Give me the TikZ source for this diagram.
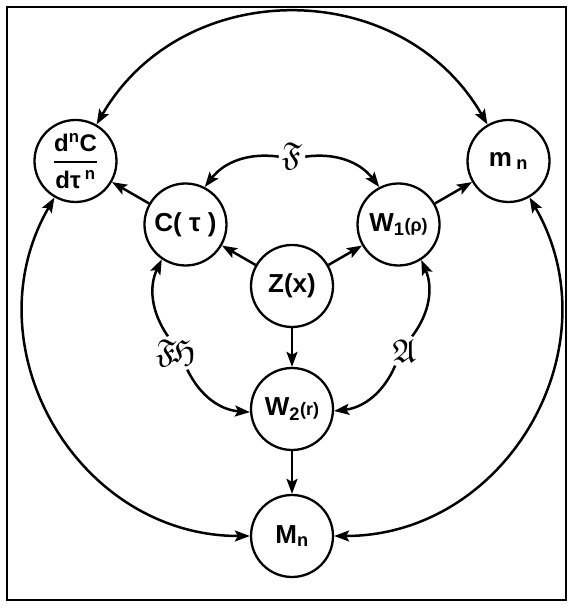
\documentclass[tikz,border=0pt]{standalone}
\usepackage{amsmath,amssymb}
\usepackage{fontspec}
\setmainfont{Liberation Sans}
\usetikzlibrary{arrows.meta,calc}
\begin{document}
\begin{tikzpicture}[x=1pt,y=1pt,
  nd/.style={circle,draw,line width=2.3pt,minimum size=82pt,inner sep=0pt,
    font=\fontsize{26}{28}\selectfont\bfseries},
  arr/.style={line width=2.5pt,-{Stealth[length=15pt,width=11pt,inset=3pt]}},
  darr/.style={line width=2.5pt,{Stealth[length=15pt,width=11pt,inset=3pt]}-{Stealth[length=15pt,width=11pt,inset=3pt]}},
  lbl/.style={font=\fontsize{33}{35}\selectfont,inner sep=3pt}]
\useasboundingbox (0,0) rectangle (573,608);
\draw[line width=2.2pt] (7,8) rectangle (566,601);
\node[nd] (Z) at (292,322) {Z(x)};
\node[nd] (D) at ($(Z)+(150:250)$) {\fontsize{24}{26}\selectfont$\genfrac{}{}{2.2pt}{0}{\mbox{\bfseries d\textsuperscript{n}C}}{\mbox{\bfseries dτ\,\textsuperscript{n}}}$};
\node[nd] (m) at ($(Z)+(30:250)$) {m\,\textsubscript{n}};
\node[nd] (M) at ($(Z)+(270:250)$) {M\textsubscript{n}};
\node[nd] (C) at ($(Z)+(150:123)$) {C( τ )};
\node[nd] (W1) at ($(Z)+(30:123)$) {W\textsubscript{1}{\fontsize{18}{20}\selectfont(ρ)}};
\node[nd] (W2) at ($(Z)+(270:123)$) {W\textsubscript{2}{\fontsize{18}{20}\selectfont(r)}};
\node[lbl] (F) at ($(Z)+(90:130)$) {$\mathfrak{F}$};
\node[lbl] (FH) at ($(Z)+(210:134)$) {$\mathfrak{F}\!\mathfrak{H}$};
\node[lbl] (A) at ($(Z)+(330:130)$) {$\mathfrak{A}$};
% outer arcs
\draw[darr] (D) to[bend left=60,looseness=1.13] (m);
\draw[darr] (D) to[bend right=60,looseness=1.13] (M);
\draw[darr] (m) to[bend left=60,looseness=1.13] (M);
% straight arrows
\draw[arr] (C) -- (D);
\draw[arr] (W1) -- (m);
\draw[arr] (Z) -- (C);
\draw[arr] (Z) -- (W1);
\draw[arr] (Z) -- (W2);
\draw[arr] (W2) -- (M);
% label arcs
\draw[arr] (F) to[bend right=30] (C);
\draw[arr] (F) to[bend left=30] (W1);
\draw[arr] (FH) to[bend left=30] (C);
\draw[arr] (FH) to[bend right=30] (W2);
\draw[arr] (A) to[bend right=30] (W1);
\draw[arr] (A) to[bend left=30] (W2);
\end{tikzpicture}
\end{document}
